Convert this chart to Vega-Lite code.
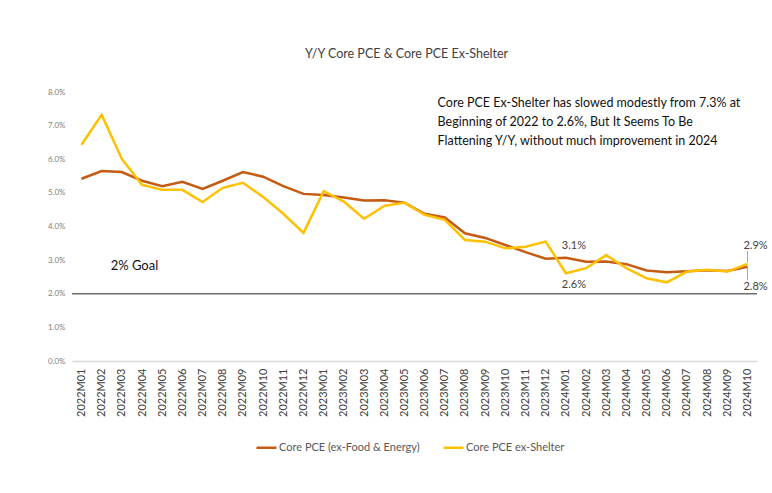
{
  "$schema": "https://vega.github.io/schema/vega-lite/v6.json",
  "width": 685,
  "height": 269,
  "autosize": {"type": "none"},
  "padding": {"left": 72, "top": 92, "right": 15, "bottom": 132},
  "background": "white",
  "config": {"view": {"stroke": null}, "font": "Lato"},
  "title": {"text": "Y/Y Core PCE & Core PCE Ex-Shelter", "fontSize": 12.5, "fontWeight": "normal", "color": "#404040", "offset": 28, "anchor": "middle", "font": "Lato", "dx": -8},
  "datasets": {
    "pce": [
      {"month": "2022M01", "core": 5.42, "exs": 6.43},
      {"month": "2022M02", "core": 5.65, "exs": 7.32},
      {"month": "2022M03", "core": 5.62, "exs": 6.01},
      {"month": "2022M04", "core": 5.36, "exs": 5.24},
      {"month": "2022M05", "core": 5.2, "exs": 5.09},
      {"month": "2022M06", "core": 5.33, "exs": 5.09},
      {"month": "2022M07", "core": 5.12, "exs": 4.73},
      {"month": "2022M08", "core": 5.36, "exs": 5.15},
      {"month": "2022M09", "core": 5.62, "exs": 5.3},
      {"month": "2022M10", "core": 5.48, "exs": 4.88},
      {"month": "2022M11", "core": 5.2, "exs": 4.38},
      {"month": "2022M12", "core": 4.97, "exs": 3.81},
      {"month": "2023M01", "core": 4.94, "exs": 5.05},
      {"month": "2023M02", "core": 4.86, "exs": 4.74},
      {"month": "2023M03", "core": 4.77, "exs": 4.23},
      {"month": "2023M04", "core": 4.78, "exs": 4.61},
      {"month": "2023M05", "core": 4.71, "exs": 4.71},
      {"month": "2023M06", "core": 4.38, "exs": 4.35},
      {"month": "2023M07", "core": 4.27, "exs": 4.2},
      {"month": "2023M08", "core": 3.8, "exs": 3.6},
      {"month": "2023M09", "core": 3.66, "exs": 3.55},
      {"month": "2023M10", "core": 3.45, "exs": 3.35},
      {"month": "2023M11", "core": 3.24, "exs": 3.4},
      {"month": "2023M12", "core": 3.04, "exs": 3.55},
      {"month": "2024M01", "core": 3.07, "exs": 2.61},
      {"month": "2024M02", "core": 2.95, "exs": 2.76},
      {"month": "2024M03", "core": 2.96, "exs": 3.15},
      {"month": "2024M04", "core": 2.88, "exs": 2.76},
      {"month": "2024M05", "core": 2.69, "exs": 2.46},
      {"month": "2024M06", "core": 2.64, "exs": 2.34},
      {"month": "2024M07", "core": 2.67, "exs": 2.66},
      {"month": "2024M08", "core": 2.7, "exs": 2.71},
      {"month": "2024M09", "core": 2.68, "exs": 2.66},
      {"month": "2024M10", "core": 2.8, "exs": 2.89}
    ],
    "notes": [
      {"month": "2023M06", "y": 7.68, "text": "Core PCE Ex-Shelter has slowed modestly from 7.3% at"},
      {"month": "2023M06", "y": 7.11, "text": "Beginning of 2022 to 2.6%, But It Seems To Be"},
      {"month": "2023M06", "y": 6.55, "text": "Flattening Y/Y, without much improvement in 2024"}
    ],
    "labels": [
      {"month": "2024M01", "y": 3.43, "text": "3.1%"},
      {"month": "2024M01", "y": 2.27, "text": "2.6%"},
      {"month": "2024M10", "y": 3.43, "text": "2.9%"},
      {"month": "2024M10", "y": 2.2, "text": "2.8%"}
    ],
    "leaders": [
      {"month": "2024M10", "y": 3.27, "y2": 2.93},
      {"month": "2024M10", "y": 2.77, "y2": 2.41}
    ],
    "goalLine": [{"y": 2}],
    "goal": [{"month": "2022M02", "y": 2.83, "text": "2% Goal"}]
  },
  "encoding": {
    "y": {"field": "y", "type": "quantitative",
      "scale": {"domain": [0, 8], "nice": false},
      "axis": {"title": null, "values": [0, 1, 2, 3, 4, 5, 6, 7, 8], "labelOverlap": false, "labelExpr": "format(datum.value, '.1f') + '%'", "grid": false, "domain": false, "ticks": false, "labelFontSize": 8, "labelColor": "#808080", "labelPadding": 7}}
  },
  "layer": [
    {
      "data": {"name": "goalLine"},
      "mark": {"type": "rule", "color": "#6e6e6e", "strokeWidth": 1.5}
    },
    {
      "data": {"name": "pce"},
      "transform": [
        {"fold": ["core", "exs"], "as": ["key", "y"]},
        {"lookup": "key", "from": {"data": {"values": [{"key": "core", "series": "Core PCE (ex-Food & Energy)"}, {"key": "exs", "series": "Core PCE ex-Shelter"}]}, "key": "key", "fields": ["series"]}}
      ],
      "mark": {"type": "line", "strokeWidth": 2.5},
      "encoding": {
        "x": {"field": "month", "type": "ordinal", "sort": "ascending",
          "scale": {"type": "point", "padding": 0.47},
          "axis": {"title": null, "labelAngle": -90, "labelFontSize": 11, "labelColor": "#404040", "labelPadding": 7, "ticks": false, "domainColor": "#D9D9D9", "domainWidth": 1.5, "labelFont": "Lato"}},
        "color": {"field": "series", "type": "nominal",
          "scale": {"domain": ["Core PCE (ex-Food & Energy)", "Core PCE ex-Shelter"], "range": ["#C55A11", "#FFC000"]},
          "legend": {"title": null, "orient": "none", "legendX": 183, "legendY": 344, "direction": "horizontal", "symbolType": "stroke", "symbolStrokeWidth": 2.5, "symbolSize": 400, "labelFontSize": 11, "labelColor": "#595959", "columnPadding": 18, "labelOffset": 1}}
      }
    },
    {
      "data": {"name": "leaders"},
      "mark": {"type": "rule", "color": "#A6A6A6", "strokeWidth": 1},
      "encoding": {
        "x": {"field": "month", "type": "ordinal", "sort": "ascending"},
        "y2": {"field": "y2"}
      }
    },
    {
      "data": {"name": "notes"},
      "mark": {"type": "text", "align": "left", "baseline": "middle", "dx": 13, "fontSize": 12.5, "color": "#111111"},
      "encoding": {
        "x": {"field": "month", "type": "ordinal", "sort": "ascending"},
        "text": {"field": "text"}
      }
    },
    {
      "data": {"name": "labels"},
      "mark": {"type": "text", "align": "center", "baseline": "middle", "dx": 8, "fontSize": 11, "color": "#404040"},
      "encoding": {
        "x": {"field": "month", "type": "ordinal", "sort": "ascending"},
        "text": {"field": "text"}
      }
    },
    {
      "data": {"name": "goal"},
      "mark": {"type": "text", "align": "left", "baseline": "middle", "dx": 9, "fontSize": 13, "color": "#111111"},
      "encoding": {
        "x": {"field": "month", "type": "ordinal", "sort": "ascending"},
        "text": {"field": "text"}
      }
    }
  ]
}
